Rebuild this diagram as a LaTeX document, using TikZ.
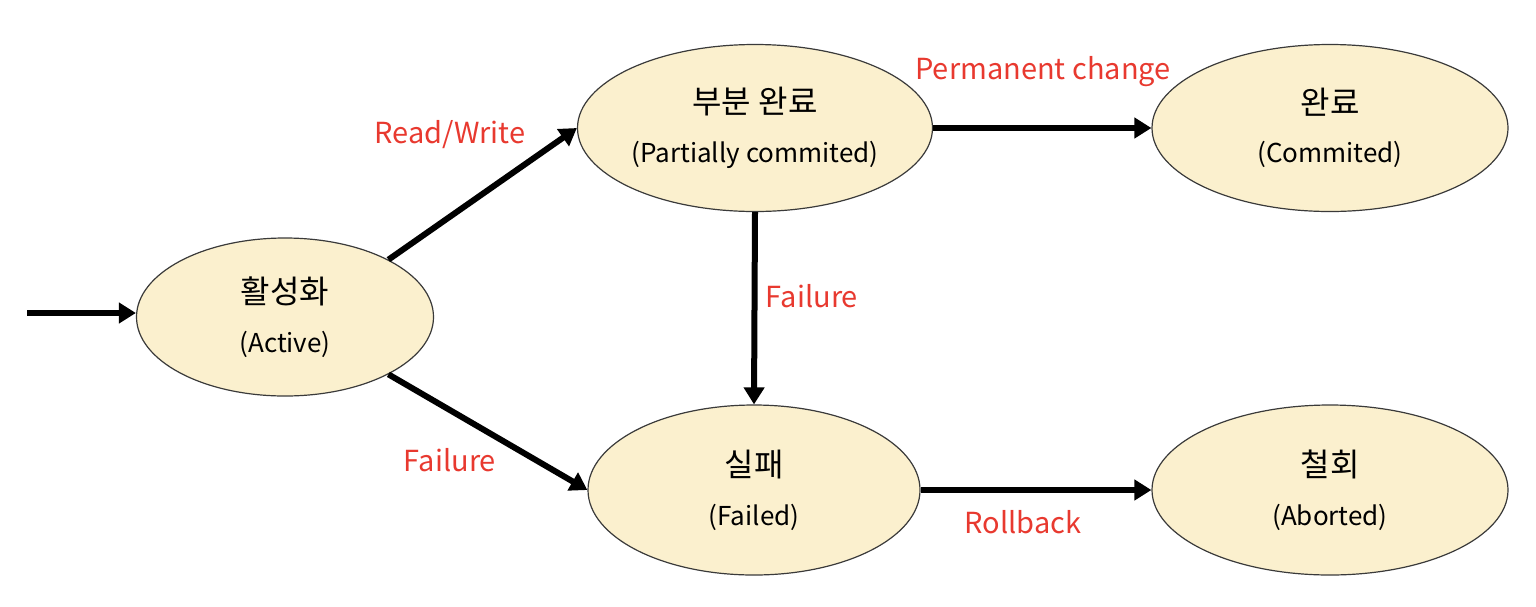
\documentclass[tikz,border=0pt]{standalone}
\usepackage{fontspec}
\usepackage{tikz}
\usetikzlibrary{shapes.geometric,arrows.meta}
\setmainfont{Noto Sans CJK KR}
\definecolor{stateFill}{HTML}{FBF0CE}
\definecolor{stateLine}{HTML}{3A3A3A}
\definecolor{edgeRed}{HTML}{E8392F}
\tikzset{
  lbl/.style={font=\fontsize{29}{34}\selectfont, text=edgeRed},
}
\newcommand{\statetext}[2]{{\fontsize{32}{36}\selectfont #1}\\[24pt]{\fontsize{26}{30}\selectfont #2}}

\begin{document}
\begin{tikzpicture}[x=1pt, y=-1pt,
  state/.style={ellipse, draw=stateLine, line width=1.2pt, fill=stateFill,
                inner sep=0pt, align=center},
  trans/.style={line width=6pt, -{Triangle[length=17pt, width=20pt]}}]
  \useasboundingbox (0,0) rectangle (1536,606);
  \node[state, minimum width=297pt, minimum height=158pt] (act)   at (285,317)  {\statetext{활성화}{(Active)}};
  \node[state, minimum width=355pt, minimum height=167pt] (part)  at (755,128)  {\statetext{부분 완료}{(Partially commited)}};
  \node[state, minimum width=356pt, minimum height=167pt] (comm)  at (1330,128) {\statetext{완료}{(Commited)}};
  \node[state, minimum width=332pt, minimum height=170pt] (fail)  at (754,490)  {\statetext{실패}{(Failed)}};
  \node[state, minimum width=356pt, minimum height=170pt] (abort) at (1330,490) {\statetext{철회}{(Aborted)}};
  \coordinate (entry) at (27,313);
  \draw[trans] (entry) -- (act.west |- entry);
  \draw[trans] (act.29) -- (part.west);
  \draw[trans] (act.-29) -- (fail.west);
  \draw[trans] (part.east) -- (comm.west);
  \draw[trans] (part.south) -- (fail.north);
  \draw[trans] (fail.east) -- (abort.west);
  % edge labels
  \node[lbl] (lrw)   at (450,135)  {Read/Write};
  \node[lbl] (lfa)   at (450,460)  {Failure};
  \node[lbl] (lperm) at (1043,72)  {Permanent change};
  \node[lbl] (lfp)   at (812,296)  {Failure};
  \node[lbl] (lrb)   at (1023,522) {Rollback};
\end{tikzpicture}
\end{document}
